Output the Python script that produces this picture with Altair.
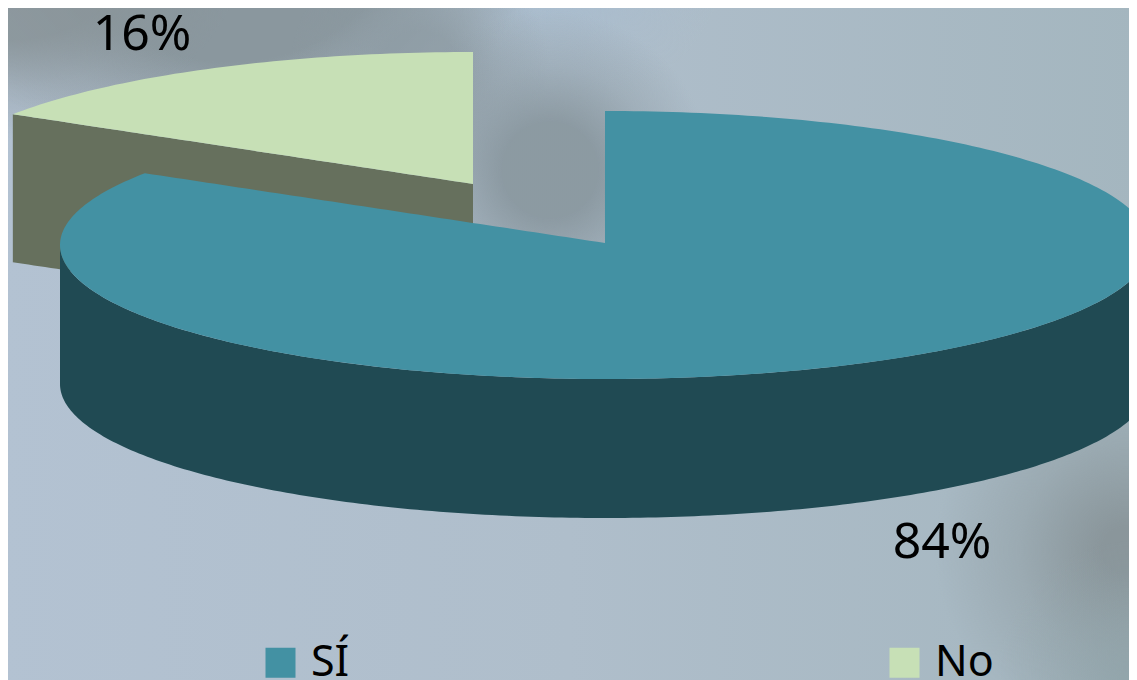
import altair as alt
import numpy as np
import pandas as pd

categories = ["SÍ", "No"]
shares = [84, 16]
labels = ["84%", "16%"]
top_colors = ["#4391A3", "#C7E0B6"]
rim_color = "#204A53"
cut_color = "#66705D"

W, H, M = 1121, 672, 8
CX, CY, RX, RY = 605.0, 245.0, 545.0, 134.0
APEX = 2.0 / RY
DEPTH = 139.0 / RY
CUT_DEPTH = 148.0 / RY
EXPLODE_X, EXPLODE_Y = -132.0 / RX, 59.0 / RY

x_scale = alt.Scale(domain=[(M - CX) / RX, (M + W - CX) / RX], range=[0, W], nice=False, zero=False)
y_scale = alt.Scale(domain=[(CY - M - H) / RY, (CY - M) / RY], range=[H, 0], nice=False, zero=False)

# Direction of the boundary between the two slices, clockwise from twelve o'clock
a_cut = 2 * np.pi * shares[0] / sum(shares)
ux, uy = np.sin(a_cut), np.cos(a_cut)


def upper(x):
    return np.sqrt(np.clip(1 - x ** 2, 0, 1))


def radial(x):
    return APEX + x * (uy - APEX) / ux


def frame(series, x, y, y2):
    return pd.DataFrame({"series": series, "x": x, "y": y, "y2": y2})


# large slice: top face, split into its three x spans (x strictly increasing)
x1 = -np.cos(np.linspace(0, np.arccos(-ux), 40))
x2 = np.linspace(ux, -1e-6, 60)[1:]
x3 = -np.cos(np.linspace(np.pi / 2, np.pi, 90))
x_big = np.concatenate([x1, x2, x3])
top_big = np.concatenate([upper(x1), radial(x2), upper(x3)])
big = frame(categories[0], x_big, top_big, -upper(x_big))

xr = -np.cos(np.linspace(0, np.pi, 220))
rim = frame("rim", xr, -upper(xr), -upper(xr) - DEPTH)

# small slice, pulled out of the pie
xs = -np.cos(np.linspace(np.arccos(-ux), np.pi / 2, 60))
small = frame(categories[1], xs + EXPLODE_X, upper(xs) + EXPLODE_Y, radial(xs) + EXPLODE_Y)
cut = frame("cut", xs + EXPLODE_X, radial(xs) + EXPLODE_Y, radial(xs) + EXPLODE_Y - CUT_DEPTH)


def area(df, **kw):
    return alt.Chart(df).mark_area(clip=True, **kw).encode(
        x=alt.X("x:Q", scale=x_scale, axis=None),
        y=alt.Y("y:Q", scale=y_scale, axis=None, stack=None),
        y2="y2:Q",
    )


def box(l, t, r, b, fill):
    return alt.Chart(pd.DataFrame({"a": [0]})).mark_rect(fill=fill, clip=True).encode(
        x=alt.value(l - M), x2=alt.value(r - M), y=alt.value(t - M), y2=alt.value(b - M)
    )


def blob(cx, cy, r, rgb, alpha, core=0.5):
    grad = alt.RadialGradient(
        gradient="radial", x1=0.5, y1=0.5, x2=0.5, y2=0.5, r1=0, r2=0.5,
        stops=[
            alt.GradientStop(color=f"rgba({rgb},{alpha})", offset=0),
            alt.GradientStop(color=f"rgba({rgb},{alpha})", offset=core),
            alt.GradientStop(color=f"rgba({rgb},{alpha * 0.4})", offset=(core + 1) * 0.5),
            alt.GradientStop(color=f"rgba({rgb},0)", offset=1),
        ],
    )
    return box(cx - r, cy - r, cx + r, cy + r, grad)


base = box(0, 0, 1137, 680, alt.LinearGradient(
    gradient="linear", x1=0, y1=0, x2=1, y2=0,
    stops=[
        alt.GradientStop(color="#B3C2D2", offset=0),
        alt.GradientStop(color="#AFBECB", offset=0.5),
        alt.GradientStop(color="#A4B6BF", offset=1),
    ],
))
backdrop = [
    base,
    blob(560, -60, 170, "168,188,206", 0.9, 0.3),
    blob(230, -130, 320, "138,151,158", 1.0, 0.6),
    blob(10, -110, 250, "138,149,154", 0.9, 0.6),
    blob(420, 70, 130, "140,154,162", 0.8, 0.3),
    blob(550, 170, 160, "138,152,160", 0.95, 0.3),
    blob(1125, 550, 190, "138,150,155", 1.0, 0.12),
    blob(1137, 680, 140, "140,160,165", 0.6, 0.1),
]

faces = alt.Chart(big).mark_area(clip=True).encode(
    x=alt.X("x:Q", scale=x_scale, axis=None),
    y=alt.Y("y:Q", scale=y_scale, axis=None, stack=None),
    y2="y2:Q",
    color=alt.Color(
        "series:N",
        scale=alt.Scale(domain=categories, range=top_colors),
        legend=alt.Legend(
            title=None, orient="none", legendX=251, legendY=633, direction="horizontal",
            columns=2, symbolType="square", symbolSize=900, symbolStrokeWidth=0,
            symbolOpacity=1, labelFontSize=43, labelFont="Noto Sans", labelColor="#000000",
            columnPadding=533, labelOffset=9, rowPadding=0, padding=0,
        ),
    ),
)

label_x = (np.array([942.0, 142.0]) - CX) / RX
label_y = (CY - np.array([558.0, 50.0])) / RY
text_df = pd.DataFrame({"t": labels, "x": label_x, "y": label_y})
texts = alt.Chart(text_df).mark_text(
    font="Noto Sans", fontSize=50, color="#000000", align="center", baseline="alphabetic"
).encode(
    x=alt.X("x:Q", scale=x_scale, axis=None),
    y=alt.Y("y:Q", scale=y_scale, axis=None),
    text="t:N",
)

chart = alt.layer(
    *backdrop,
    area(cut, fill=cut_color),
    area(small, fill=top_colors[1]),
    area(rim, fill=rim_color),
    faces,
    texts,
).resolve_scale(x="shared", y="shared").properties(
    width=W, height=H, padding=0, autosize=alt.AutoSizeParams(type="none"), background="#B0BFCB"
).configure_view(stroke=None)

chart.save("out.html", embed_options={"renderer": "svg", "actions": False})
